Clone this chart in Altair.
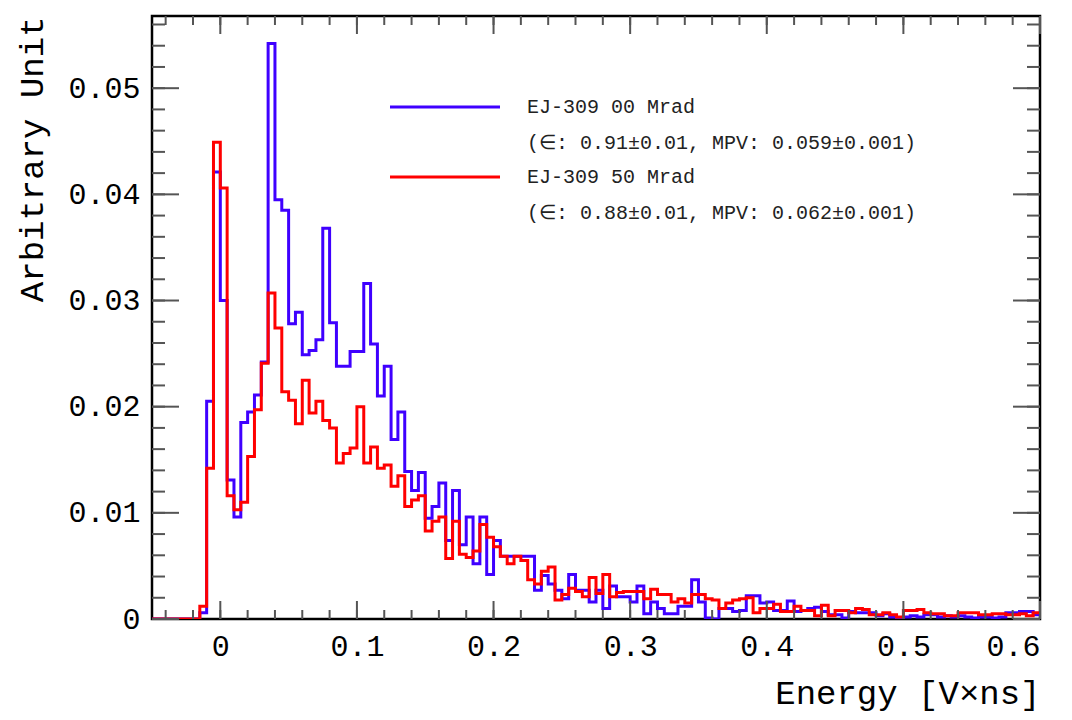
import altair as alt
import pandas as pd

# ---------------- data ----------------
BIN_WIDTH = 0.005
FIRST_EDGE = -0.05
LAST_EDGE = 0.6
N_EMPTY = 7  # empty bins from -0.05 to -0.015

series_names = ["EJ-309 00 Mrad", "EJ-309 50 Mrad"]
series_notes = ["(\u2208: 0.91\u00b10.01, MPV: 0.059\u00b10.001)",
                "(\u2208: 0.88\u00b10.01, MPV: 0.062\u00b10.001)"]
series_colors = ["#3f00ff", "#ff0000"]

# bins starting at -0.015, width 0.005
blue_vals = [
    0.0006, 0.0205, 0.0421, 0.0300, 0.0131, 0.0096, 0.0185, 0.0195, 0.0211, 0.0242,
    0.0542, 0.0395, 0.0385, 0.0278, 0.0289, 0.0249, 0.0253, 0.0263, 0.0368, 0.0279,
    0.0238, 0.0238, 0.0252, 0.0252, 0.0316, 0.0259, 0.0210, 0.0238, 0.0169, 0.0195,
    0.0139, 0.0121, 0.0138, 0.0095, 0.0106, 0.0128, 0.0074, 0.0121, 0.0070, 0.0096,
    0.0052, 0.0096, 0.0042, 0.0074, 0.0059, 0.0059, 0.0059, 0.0059, 0.0059, 0.0027,
    0.0041, 0.0033, 0.0027, 0.0019, 0.0042, 0.0027, 0.0027, 0.0016, 0.0027, 0.0010,
    0.0031, 0.0021, 0.0021, 0.0016, 0.0031, 0.0005, 0.0016, 0.0010, 0.0005, 0.0005,
    0.0012, 0.0012, 0.0037, 0.0016, 0.0001, 0.0000, 0.0010, 0.0010, 0.0007, 0.0008,
    0.0022, 0.0022, 0.0015, 0.0016, 0.0008, 0.0008, 0.0017, 0.0007, 0.0008, 0.0010,
    0.0011, 0.0007, 0.0004, 0.0004, 0.0001, 0.0007, 0.0006, 0.0006, 0.0006,
    0.0003, 0.0005, 0.0002, 0.0001, 0.0002, 0.0003, 0.0002, 0.0004, 0.0004, 0.0002,
    0.0003, 0.0002, 0.0003, 0.0002, 0.0001, 0.0002, 0.0002, 0.0001, 0.0002, 0.0006,
    0.0006, 0.0007, 0.0007, 0.0004,
]
red_vals = [
    0.0012, 0.0142, 0.0449, 0.0406, 0.0116, 0.0103, 0.0110, 0.0153, 0.0197, 0.0241,
    0.0307, 0.0274, 0.0214, 0.0206, 0.0184, 0.0225, 0.0194, 0.0205, 0.0187, 0.0180,
    0.0147, 0.0156, 0.0161, 0.0200, 0.0147, 0.0162, 0.0142, 0.0145, 0.0125, 0.0135,
    0.0106, 0.0112, 0.0116, 0.0083, 0.0092, 0.0096, 0.0057, 0.0092, 0.0061, 0.0058,
    0.0064, 0.0089, 0.0077, 0.0068, 0.0059, 0.0052, 0.0059, 0.0055, 0.0037, 0.0033,
    0.0045, 0.0049, 0.0018, 0.0023, 0.0029, 0.0026, 0.0021, 0.0039, 0.0024, 0.0042,
    0.0021, 0.0025, 0.0026, 0.0026, 0.0026, 0.0019, 0.0028, 0.0023, 0.0023, 0.0016,
    0.0019, 0.0015, 0.0023, 0.0023, 0.0019, 0.0018, 0.0010, 0.0015, 0.0018, 0.0019,
    0.0020, 0.0006, 0.0010, 0.0010, 0.0014, 0.0007, 0.0007, 0.0012, 0.0008, 0.0008,
    0.0003, 0.0013, 0.0003, 0.0008, 0.0008, 0.0006, 0.0010, 0.0009, 0.0004,
    0.0004, 0.0006, 0.0004, 0.0002, 0.0008, 0.0008, 0.0009, 0.0006, 0.0005, 0.0005,
    0.0003, 0.0003, 0.0006, 0.0006, 0.0006, 0.0004, 0.0004, 0.0005, 0.0005, 0.0004,
    0.0004, 0.0005, 0.0003, 0.0006,
]

x_major = [0.0, 0.1, 0.2, 0.3, 0.4, 0.5, 0.6]
x_minor = [round(-0.04 + 0.02 * i, 3) for i in range(33)]
y_major = [0.0, 0.01, 0.02, 0.03, 0.04, 0.05]
y_minor = [round(0.002 * i, 3) for i in range(29)]
Y_MAX = 0.0568

# ---------------- build the histogram table ----------------
rows = []
for name, vals in zip(series_names, [blue_vals, red_vals]):
    full = [0.0] * N_EMPTY + vals
    for i, v in enumerate(full):
        rows.append({"series": name, "x": round(FIRST_EDGE + i * BIN_WIDTH, 4), "y": v, "o": i})
    rows.append({"series": name, "x": LAST_EDGE, "y": full[-1], "o": len(full)})
df = pd.DataFrame(rows)

W, H = 888, 603
FONT = "Liberation Mono"

x_scale = alt.Scale(domain=[FIRST_EDGE, LAST_EDGE], nice=False, zero=False)
y_scale = alt.Scale(domain=[0, Y_MAX], nice=False, zero=False)
color_scale = alt.Scale(domain=series_names, range=series_colors)

x_axis = alt.Axis(values=x_major, labelExpr="datum.value == 0 ? '0' : format(datum.value, '.1f')",
                  title="Energy [V\u00d7ns]", grid=False, domain=False, ticks=False, tickSize=0,
                  labelPadding=12, labelFont=FONT, labelFontSize=30, labelColor="black",
                  titleFont=FONT, titleFontSize=34, titleFontWeight="normal", titleColor="black",
                  titleX=W, titleY=84, titleAlign="right", titleBaseline="alphabetic")
y_axis = alt.Axis(values=y_major, labelExpr="datum.value == 0 ? '0' : format(datum.value, '.2f')",
                  title="Arbitrary Unit", grid=False, domain=False, ticks=False, tickSize=0,
                  labelPadding=12, labelFont=FONT, labelFontSize=30, labelColor="black",
                  titleFont=FONT, titleFontSize=34, titleFontWeight="normal", titleColor="black",
                  titleAngle=270, titleX=-120, titleY=0, titleAlign="right", titleBaseline="middle")

base = alt.Chart(df)
layers = []
for name in series_names:
    layers.append(
        base.transform_filter(alt.datum.series == name).mark_line(
            interpolate="step-after", strokeWidth=3, clip=True
        ).encode(
            x=alt.X("x:Q", scale=x_scale, axis=x_axis),
            y=alt.Y("y:Q", scale=y_scale, axis=y_axis),
            color=alt.Color("series:N", scale=color_scale, legend=None),
            order=alt.Order("o:Q"),
        )
    )

# inward ticks (ROOT style) on all four sides
def xticks(vals, length, top):
    d = pd.DataFrame({"x": vals})
    if top:
        yy, yy2 = 0, length
    else:
        yy, yy2 = H, H - length
    return alt.Chart(d).mark_rule(color="#555", strokeWidth=2).encode(
        x=alt.X("x:Q", scale=x_scale, axis=x_axis), y=alt.value(yy), y2=alt.value(yy2))

def yticks(vals, length, right):
    d = pd.DataFrame({"y": vals})
    if right:
        xx, xx2 = W, W - length
    else:
        xx, xx2 = 0, length
    return alt.Chart(d).mark_rule(color="#555", strokeWidth=2).encode(
        y=alt.Y("y:Q", scale=y_scale, axis=y_axis), x=alt.value(xx), x2=alt.value(xx2))

tick_layers = [
    xticks(x_minor, 9, False), xticks(x_major, 18, False),
    xticks(x_minor, 9, True), xticks(x_major, 18, True),
    yticks(y_minor, 13, False), yticks(y_major, 27, False),
    yticks(y_minor, 13, True), yticks(y_major, 27, True),
]

# legend (two-line entries)
leg_df = pd.DataFrame({"series": series_names, "note": series_notes})
legend_layers = []
for i, name in enumerate(series_names):
    y0 = 91 + 70 * i
    one = alt.Chart(leg_df).transform_filter(alt.datum.series == name)
    legend_layers.append(one.mark_rule(strokeWidth=3).encode(
        x=alt.value(238), x2=alt.value(348), y=alt.value(y0),
        color=alt.Color("series:N", scale=color_scale, legend=None)))
    legend_layers.append(one.mark_text(align="left", baseline="middle", font=FONT,
                                       fontSize=20, color="#222").encode(
        x=alt.value(375), y=alt.value(y0), text="series:N"))
    legend_layers.append(one.mark_text(align="left", baseline="middle", font=FONT,
                                       fontSize=20, color="#222").encode(
        x=alt.value(375), y=alt.value(y0 + 36), text="note:N"))

chart = alt.layer(*layers, *tick_layers, *legend_layers).properties(
    width=W, height=H,
    background="white",
    autosize=alt.AutoSizeParams(type="none"),
    padding={"left": 144, "top": 8, "right": 24, "bottom": 93},
).configure_view(stroke="black", strokeWidth=2.5)

chart.save("out.html", embed_options={"renderer": "svg", "actions": False})
